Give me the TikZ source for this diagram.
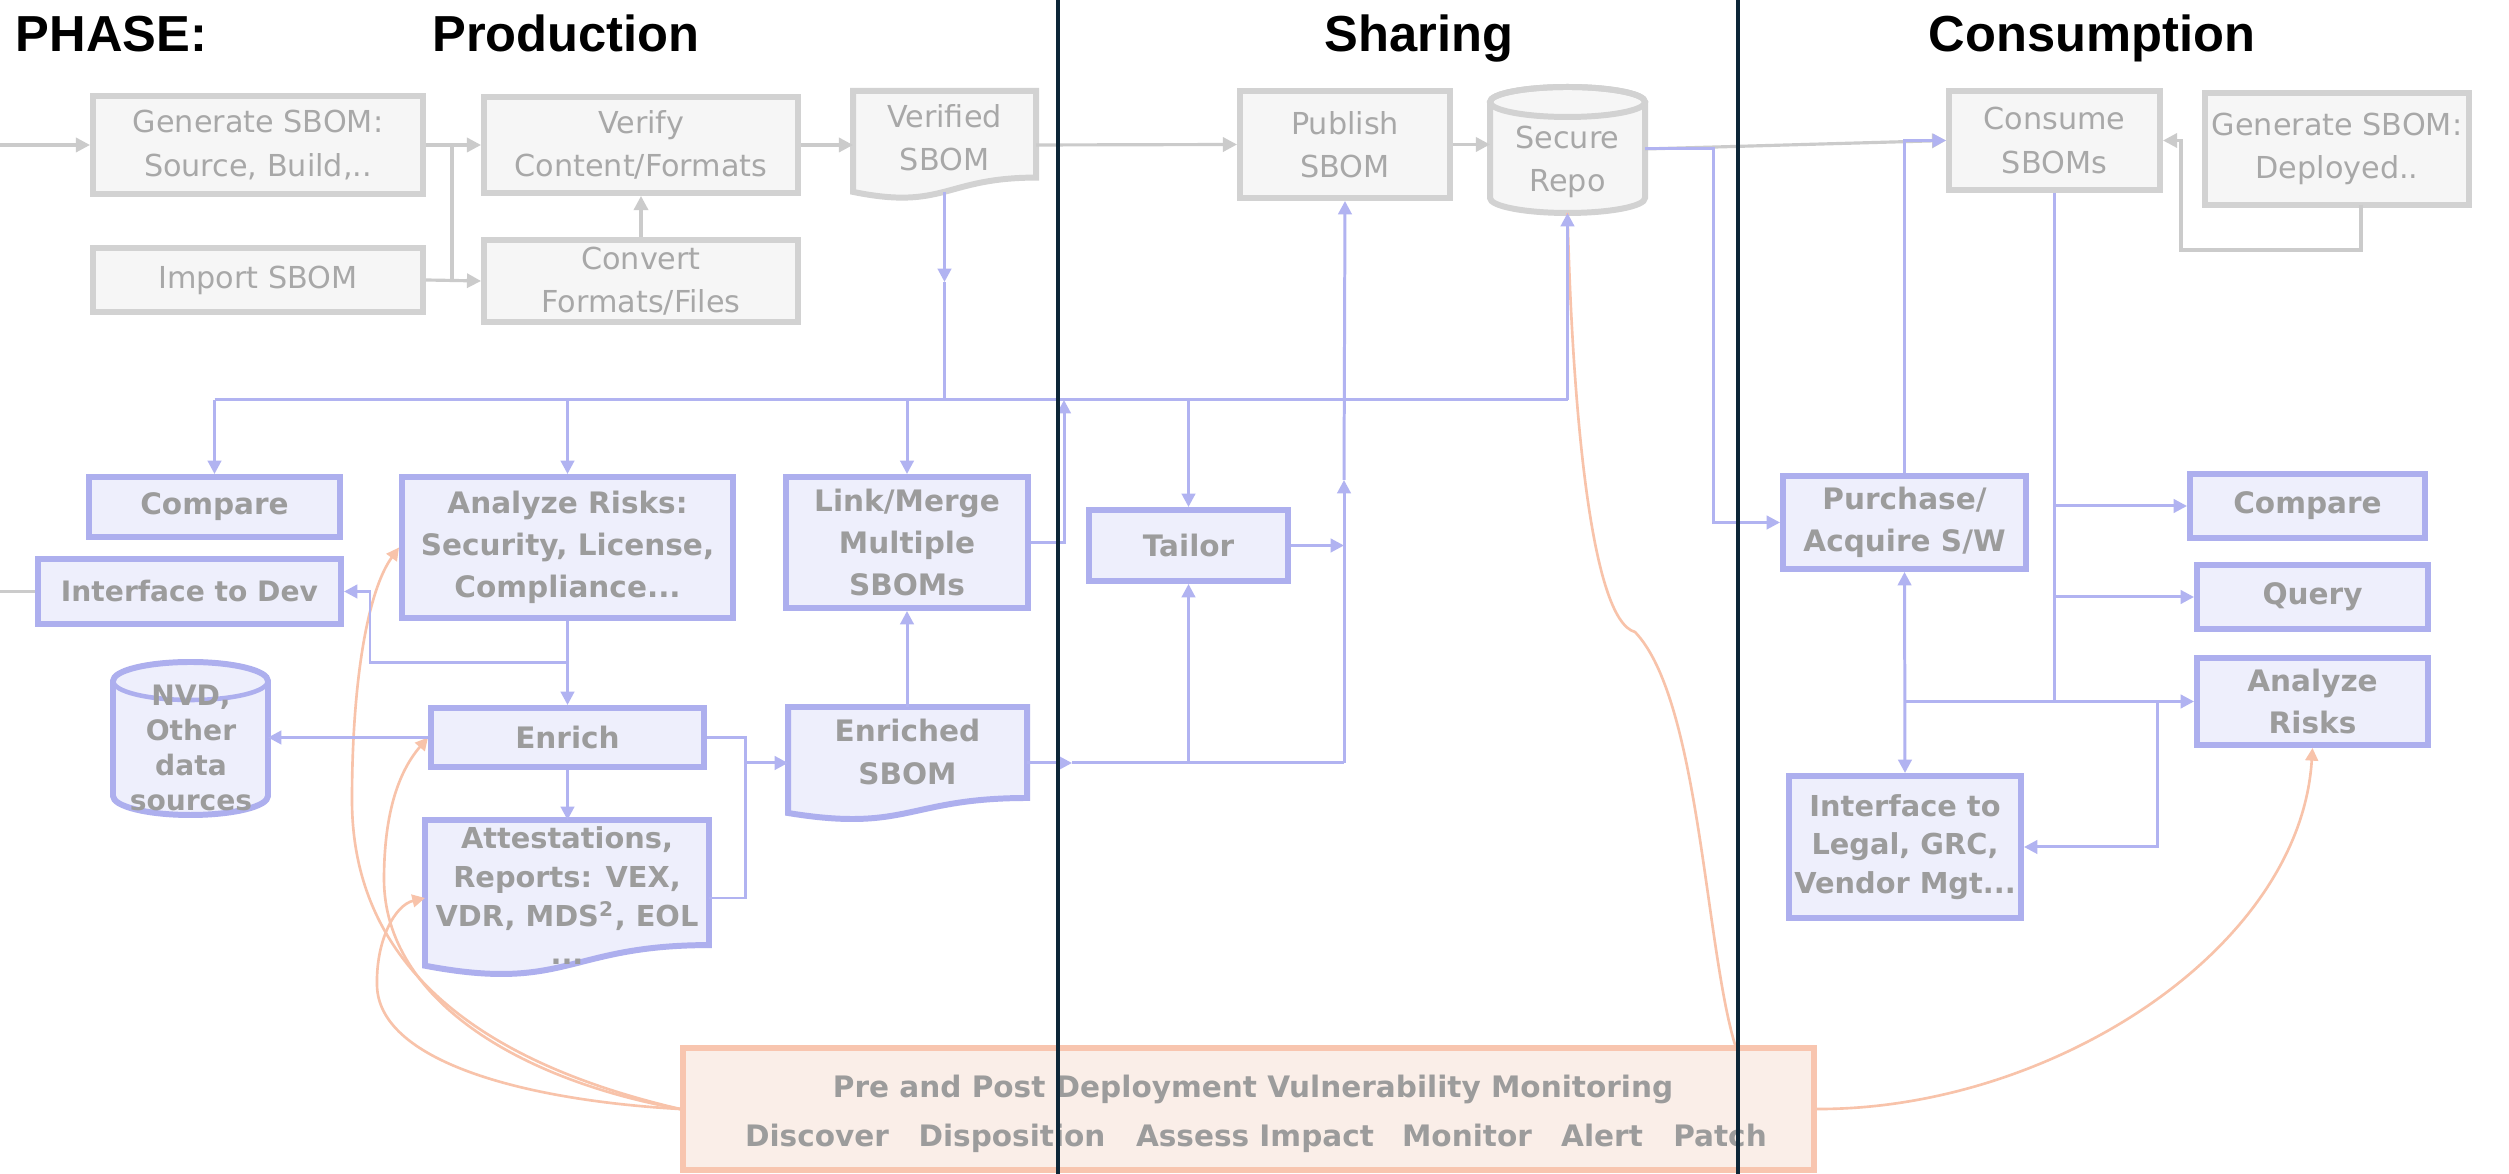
\documentclass[tikz,border=0pt]{standalone}
\usepackage{fontspec}
\setmainfont{DejaVu Sans}
\newfontfamily\headfont{Liberation Sans}
\usetikzlibrary{arrows.meta}

\definecolor{boxgray}{HTML}{D2D2D2}
\definecolor{fillgray}{HTML}{F6F6F6}
\definecolor{txtgray}{HTML}{A8A8A8}
\definecolor{linegray}{HTML}{CBCBCB}
\definecolor{bluestroke}{HTML}{ADAFEE}
\definecolor{bluefill}{HTML}{EEEFFC}
\definecolor{txtblue}{HTML}{9C9C9C}
\definecolor{lineblue}{HTML}{B1B3F1}
\definecolor{monstroke}{HTML}{F8C5AF}
\definecolor{monfill}{HTML}{FAEEE8}
\definecolor{orangeline}{HTML}{F8C3AA}
\definecolor{phasecol}{HTML}{0D2637}

\tikzset{
  sz/.style 2 args={minimum width={#1*0.01cm}, minimum height={#2*0.01cm}},
  headst/.style={font=\headfont\fontsize{14.4}{16}\selectfont\bfseries, text=black, inner sep=0pt},
  graybox/.style={draw=boxgray, fill=fillgray, line width=1.7pt, text=txtgray,
    font=\fontsize{8.6}{12.3}\selectfont, align=center, inner sep=0pt},
  bluebox/.style={draw=bluestroke, fill=bluefill, line width=1.7pt, text=txtblue,
    font=\fontsize{8.4}{12}\selectfont\bfseries, align=center, inner sep=0pt},
  graydoc/.style={draw=boxgray, fill=fillgray, line width=1.7pt},
  bluedoc/.style={draw=bluestroke, fill=bluefill, line width=1.7pt},
  doctxt/.style={text=txtblue, font=\fontsize{8.4}{12}\selectfont\bfseries, align=center, inner sep=0pt},
  monbox/.style={draw=monstroke, fill=monfill, line width=1.7pt, inner sep=0pt},
  montxt/.style={text=txtblue, font=\fontsize{8.4}{10}\selectfont\bfseries, inner sep=0pt},
  gline/.style={draw=linegray, line width=0.9pt},
  garrow/.style={gline, -{Triangle[length=4pt,width=4pt]}},
  bline/.style={draw=lineblue, line width=0.85pt},
  barrow/.style={bline, -{Triangle[length=3.8pt,width=3.8pt]}},
  oline/.style={draw=orangeline, line width=0.75pt},
  oarrow/.style={oline, -{Triangle[length=3.6pt,width=3.6pt]}},
  phaseline/.style={draw=phasecol, line width=1.2pt},
}

\begin{document}
\begin{tikzpicture}[x=0.01cm,y=-0.01cm]
\useasboundingbox (0,0) rectangle (2509,1174);
\fill[white] (0,0) rectangle (2509,1174);

% ---------- phase headings ----------
\node[headst, anchor=base west] (hphase) at (15,52) {PHASE:};
\node[headst, anchor=base] (hprod) at (566,52) {Production};
\node[headst, anchor=base] (hshare) at (1419,52) {Sharing};
\node[headst, anchor=base] (hcons) at (2092,52) {Consumption};

% ---------- upstream (gray) steps ----------
\node[graybox, sz={330}{98}] (gsrc) at (258,145) {Generate SBOM:\\Source, Build,..};
\node[graybox, sz={314}{96}] (verify) at (641,145) {Verify\\Content/Formats};
\node[graybox, sz={330}{64}] (imp) at (258,280) {Import SBOM};
\node[graybox, sz={314}{82}] (conv) at (641,281) {Convert\\Formats/Files};
\node[graybox, sz={210}{107}] (publish) at (1345,144.5) {Publish\\SBOM};
\node[graybox, sz={211}{99}] (consume) at (2054.5,140.5) {Consume\\SBOMs};
\node[graybox, sz={264}{112}] (gdep) at (2337,149) {Generate SBOM:\\Deployed..};

% Verified SBOM document
\path[graydoc] (853,91) -- (1036,91) -- (1036,177.6)
  .. controls (944.5,177.6) and (944.5,210.6) .. (853,191.9) -- cycle;
\node[graybox, draw=none, fill=none] (vsb) at (944.5,138) {Verified\\SBOM};

% Secure repository cylinder
\path[graydoc] (1490,102) -- (1490,198)
  arc[start angle=180, end angle=0, x radius=77.5, y radius=15] -- (1645,102)
  arc[start angle=0, end angle=-180, x radius=77.5, y radius=15] -- cycle;
\draw[draw=boxgray, line width=1.7pt] (1567.5,102) ellipse[x radius=77.5, y radius=15];
\node[graybox, draw=none, fill=none] (repo) at (1567.5,162) {Secure\\Repo};

% ---------- SBOM-driven (blue) steps ----------
\node[bluebox, sz={251}{60}] (cmpL) at (214.5,507) {Compare};
\node[bluebox, sz={303}{65}, font=\fontsize{8}{12}\selectfont\bfseries] (idev) at (189.5,591.5) {Interface to Dev};
\node[bluebox, sz={331}{141}] (risk) at (567.5,547.5) {Analyze Risks:\\Security, License,\\Compliance...};
\node[bluebox, sz={242}{131}] (link) at (907,542.5) {Link/Merge\\Multiple\\SBOMs};
\node[bluebox, sz={273}{59}] (enrich) at (567.5,737.5) {Enrich};
\node[bluebox, sz={199}{71}] (tailor) at (1188.5,545.5) {Tailor};
\node[bluebox, sz={243}{93}] (purchase) at (1904.5,522.5) {Purchase/\\Acquire S/W};
\node[bluebox, sz={235}{64}] (cmpR) at (2307.5,506) {Compare};
\node[bluebox, sz={231}{64}] (query) at (2312.5,597) {Query};
\node[bluebox, sz={231}{87}] (riskR) at (2312.5,701.5) {Analyze\\Risks};
\node[bluebox, sz={232}{142}, font=\fontsize{8.2}{11}\selectfont\bfseries] (ilegal) at (1905,847) {Interface to\\Legal, GRC,\\Vendor Mgt...};

% data sources cylinder
\path[bluedoc] (113,681) -- (113,796)
  arc[start angle=180, end angle=0, x radius=77.5, y radius=19] -- (268,681)
  arc[start angle=0, end angle=-180, x radius=77.5, y radius=19] -- cycle;
\draw[draw=bluestroke, line width=1.3pt] (190.5,681) ellipse[x radius=77.5, y radius=19];
\node[doctxt, font=\fontsize{8}{10}\selectfont\bfseries] (nvd) at (191,748) {NVD,\\Other\\data\\sources};

% Enriched SBOM document
\path[bluedoc] (788,707) -- (1027,707) -- (1027,798)
  .. controls (907.5,798) and (907.5,832.6) .. (788,813) -- cycle;
\node[doctxt] (esb) at (907.5,752) {Enriched\\SBOM};

% Attestations / reports document
\path[bluedoc] (425,820) -- (709,820) -- (709,945.1)
  .. controls (567,945.1) and (567,992.7) .. (425,965.7) -- cycle;
\node[doctxt, font=\fontsize{8.2}{11}\selectfont\bfseries] (att) at (567,896) {Attestations,\\Reports: VEX,\\VDR, MDS\textsuperscript{2},\ EOL\\...};

% ---------- monitoring band ----------
\node[monbox, sz={1131}{122}] (mon) at (1248.5,1109) {};
\node[montxt, anchor=base] (mtitle) at (1253,1098) {Pre and Post Deployment Vulnerability Monitoring};
\node[montxt, anchor=base] (mdisc) at (817,1147) {Discover};
\node[montxt, anchor=base] (mdisp) at (1012,1147) {Disposition};
\node[montxt, anchor=base] (massess) at (1255,1147) {Assess Impact};
\node[montxt, anchor=base] (mmon) at (1467,1147) {Monitor};
\node[montxt, anchor=base] (malert) at (1602,1147) {Alert};
\node[montxt, anchor=base] (mpatch) at (1720,1147) {Patch};

% ---------- junction points ----------
\coordinate (inL) at (0,145);
\coordinate (inL2) at (0,591.5);
\coordinate (gj1) at (452,145);
\coordinate (gj2) at (452,280);
\coordinate (vsb-w) at (853,145);
\coordinate (vsb-e) at (1036,145);
\coordinate (vsb-bot) at (944.5,192);
\coordinate (vsbmid) at (944.5,282);
\coordinate (repo-w) at (1490,144.5);
\coordinate (repo-e) at (1645,149);
\coordinate (repo-b) at (1567.5,213);
\coordinate (rp) at (1713,149);
\coordinate (busL) at (214.5,400);
\coordinate (busV) at (944.5,400);
\coordinate (busLM) at (1064,400);
\coordinate (busR) at (1567.5,400);
\coordinate (rj) at (567.5,663);
\coordinate (rj2) at (370,591.5);
\coordinate (nvd-e) at (268,737.5);
\coordinate (att-n) at (567.5,820);
\coordinate (att-e) at (709,898);
\coordinate (att-w) at (425,898);
\coordinate (ej) at (745,763);
\coordinate (ej2) at (745,898);
\coordinate (esb-n) at (907,707);
\coordinate (esb-w) at (788,763);
\coordinate (esb-e) at (1027,763);
\coordinate (esbmid) at (1072,763);
\coordinate (pj) at (1344,763);
\coordinate (pubmid) at (1344,480);
\coordinate (gd-b) at (2361,205);
\coordinate (gd-c) at (2181,250);
\coordinate (cj) at (2054.5,702);
\coordinate (lj) at (2157,702);
\coordinate (mon-t) at (1736,1048);

% ---------- monitoring feedback curves ----------
\draw[oline] (mon-t) .. controls (1705,950) and (1700,700) .. (1635,632)
  .. controls (1590,620) and (1572,400) .. (repo-b);
\draw[oarrow] (mon.west) .. controls (470,1060) and (352,960) .. (352,800)
  .. controls (352,680) and (368,590) .. (risk.west);
\draw[oarrow] (mon.west) .. controls (520,1080) and (385,1000) .. (384,880)
  .. controls (384,810) and (400,770) .. (enrich.west);
\draw[oarrow] (mon.west) .. controls (520,1100) and (378,1060) .. (377,985)
  .. controls (376,940) and (395,905) .. (att-w);
\draw[oarrow] (mon.east) .. controls (2050,1110) and (2300,950) .. (riskR.south);

% ---------- gray flow ----------
\draw[garrow] (inL) -- (gsrc.west);
\draw[garrow] (gsrc.east) -- (verify.west);
\draw[garrow] (imp.east) -- (conv.west);
\draw[gline] (gj1) -- (gj2);
\draw[garrow] (conv.north) -- (verify.south);
\draw[garrow] (verify.east) -- (vsb-w);
\draw[garrow] (vsb-e) -- (publish.west);
\draw[garrow] (publish.east) -- (repo-w);
\draw[garrow] (repo-e) -- (consume.west);
\draw[garrow] (gd-b) |- (gd-c) |- (consume.east);
\draw[gline] (inL2) -- (idev.west);

% ---------- blue flow ----------
\draw[barrow] (vsb-bot) -- (vsbmid);
\draw[bline] (vsbmid) -- (busV);
\draw[bline] (busL) -- (busR);
\draw[barrow] (busL) -- (cmpL.north);
\draw[barrow] (risk.north |- busL) -- (risk.north);
\draw[barrow] (link.north |- busL) -- (link.north);
\draw[barrow] (tailor.north |- busL) -- (tailor.north);
\draw[barrow] (busR) -- (repo-b);
\draw[barrow] (link.east) -| (busLM);
\draw[barrow] (risk.south) -- (enrich.north);
\draw[barrow] (rj) -| (rj2) -- (idev.east);
\draw[barrow] (enrich.west) -- (nvd-e);
\draw[barrow] (enrich.south) -- (att-n);
\draw[bline] (enrich.east) -| (ej2) -- (att-e);
\draw[barrow] (ej) -- (esb-w);
\draw[barrow] (esb-n) -- (link.south);
\draw[barrow] (esb-e) -- (esbmid);
\draw[bline] (esbmid) -- (pj);
\draw[barrow] (tailor.south |- esb-e) -- (tailor.south);
\draw[barrow] (pj) -- (pubmid);
\draw[barrow] (pubmid) -- (publish.south);
\draw[barrow] (tailor.east) -- (tailor.east -| pj);
\draw[barrow] (repo-e) -- (rp) |- (purchase.west);
\draw[barrow] (purchase.north) |- (consume.west);
\draw[bline] (consume.south) -- (cj);
\draw[barrow] (consume.south |- cmpR.west) -- (cmpR.west);
\draw[barrow] (consume.south |- query.west) -- (query.west);
\draw[barrow] (purchase.south |- riskR.west) -- (riskR.west);
\draw[bline, {Triangle[length=3.8pt,width=3.8pt]}-{Triangle[length=3.8pt,width=3.8pt]}] (purchase.south) -- (ilegal.north);
\draw[barrow] (lj) |- (ilegal.east);

% ---------- phase separators ----------
\draw[phaseline] (1058,0) -- (1058,1174);
\draw[phaseline] (1738,0) -- (1738,1174);
\end{tikzpicture}
\end{document}
